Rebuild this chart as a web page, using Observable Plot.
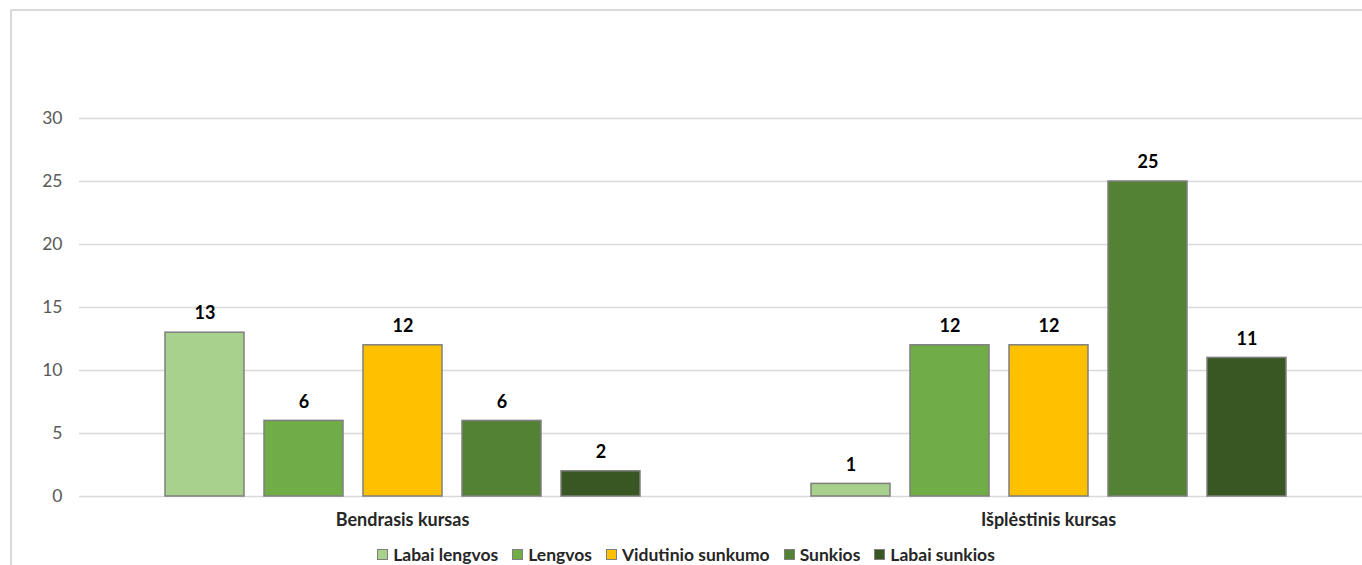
<!DOCTYPE html>
<html>
<head>
<meta charset="utf-8">
<script src="https://cdn.jsdelivr.net/npm/d3@7"></script>
<script src="https://cdn.jsdelivr.net/npm/@observablehq/plot@0.6"></script>
<style>
  html, body { margin: 0; padding: 0; background: #fff; overflow: hidden; width: 1362px; height: 565px; }
  #wrap { position: relative; width: 1362px; height: 565px; overflow: hidden; font-family: Lato, Carlito, Calibri, sans-serif; }
  #chart { position: absolute; left: 0; top: 0; width: 1362px; overflow: hidden; }
  #frame { position: absolute; left: 10px; top: 9px; width: 1352px; height: 556px;
           border-left: 2px solid #d9d9d9; border-top: 2px solid #d9d9d9; pointer-events: none; box-sizing: border-box; }
  #legend { position: absolute; left: 0; top: 543px; width: 1362px; padding-left: 10px; box-sizing: border-box; text-align: center;
            font-size: 17.5px; font-weight: bold; color: #262626; white-space: nowrap; }
  #legend .item { display: inline-flex; align-items: center; margin: 0 7px; }
  #legend .sw { display: inline-block; width: 11px; height: 11px; border: 1px solid #7f7f7f; margin-right: 5px; box-sizing: border-box; }
  svg [aria-label="y-axis tick label"] text { fill: #595959; font-size: 17.5px; }
  svg [aria-label="fx-axis tick label"] text { fill: #262626; font-weight: bold; font-size: 18px; }
</style>
</head>
<body>
<div id="wrap">
<div id="chart"></div>
<div id="frame"></div>
<div id="legend"></div>
</div>
<script>
const groups = ["Bendrasis kursas", "Išplėstinis kursas"];
const series = ["Labai lengvos", "Lengvos", "Vidutinio sunkumo", "Sunkios", "Labai sunkios"];
const bendrasis = [13, 6, 12, 6, 2];
const isplestinis = [1, 12, 12, 25, 11];
const colors = ["#A9D18E", "#70AD47", "#FFC000", "#548235", "#385723"];
const yTicks = [0, 5, 10, 15, 20, 25, 30];

const values = [bendrasis, isplestinis];
const data = [];
groups.forEach((g, gi) => series.forEach((s, si) => data.push({group: g, series: s, value: values[gi][si]})));

const chart = Plot.plot({
  width: 1362,
  height: 540,
  marginLeft: 79,
  marginRight: 0,
  marginTop: 118,
  marginBottom: 44,
  style: {fontFamily: "Lato, Carlito, Calibri, sans-serif", fontSize: "18px", background: "transparent", overflow: "visible"},
  fx: {domain: groups, range: [79, 1371], padding: 0, label: null, axis: "bottom", tickSize: 0, tickPadding: 17},
  x: {domain: series, paddingInner: 0.204, paddingOuter: 0.856, axis: null},
  y: {domain: [0, 30], ticks: yTicks, tickSize: 0, tickPadding: 17, label: null},
  color: {domain: series, range: colors},
  marks: [
    Plot.ruleY(yTicks, {stroke: "#d9d9d9", strokeWidth: 1.5}),
    Plot.barY(data, {fx: "group", x: "series", y: "value", fill: "series", stroke: "#7f7f7f", strokeWidth: 1.5}),
    Plot.text(data, {fx: "group", x: "series", y: "value", text: d => String(d.value), dy: -19, fontWeight: "bold", fontSize: 18, fill: "#000"})
  ]
});
document.getElementById("chart").appendChild(chart);

const legend = document.getElementById("legend");
series.forEach((s, i) => {
  const item = document.createElement("span");
  item.className = "item";
  const sw = document.createElement("span");
  sw.className = "sw";
  sw.style.background = colors[i];
  item.appendChild(sw);
  item.appendChild(document.createTextNode(s));
  legend.appendChild(item);
});
</script>
</body>
</html>
